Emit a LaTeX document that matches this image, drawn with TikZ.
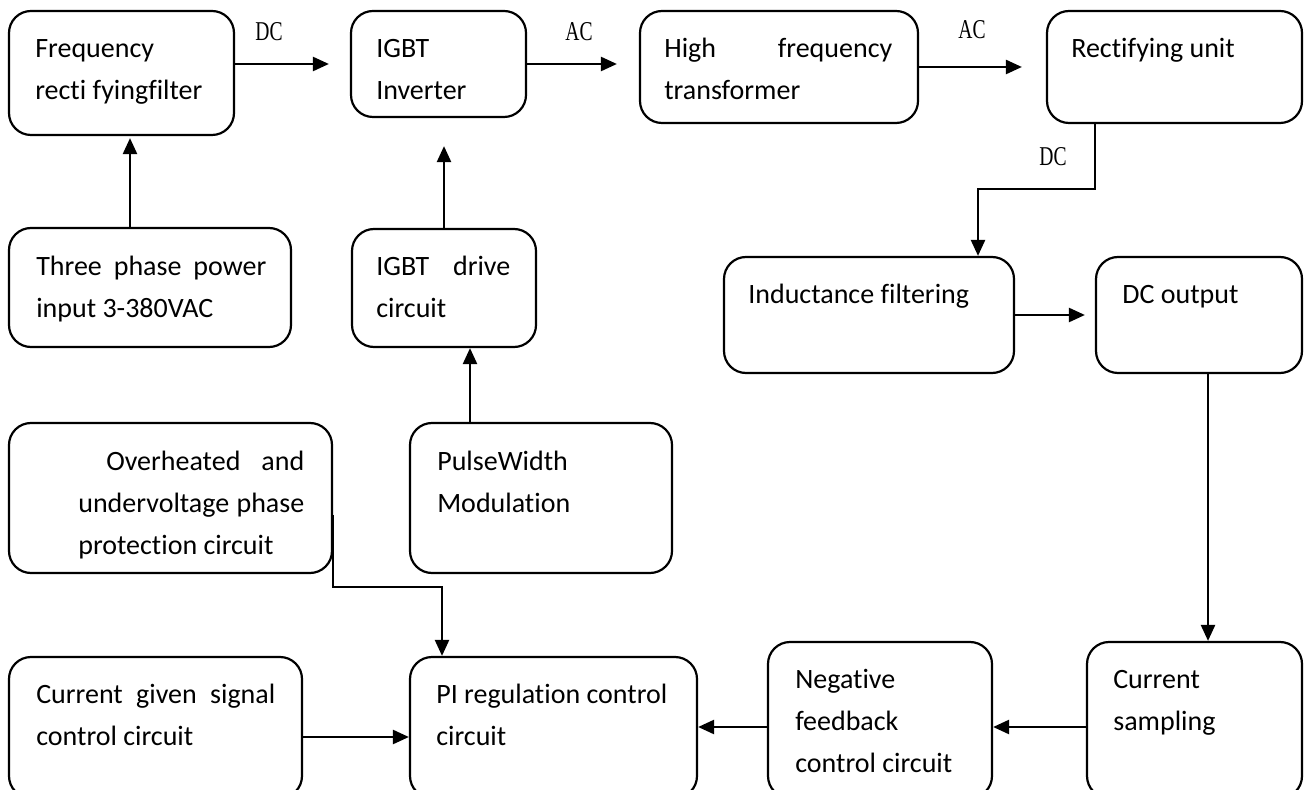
\documentclass[tikz,border=0pt]{standalone}
\usepackage{fontspec}
\setmainfont{Carlito}[Ligatures=NoCommon]
\newfontfamily\lblfont[FakeStretch=0.72]{Liberation Serif}
\usetikzlibrary{arrows.meta,fit,calc}

\tikzset{
  blk/.style={draw, line width=1.1pt, rounded corners=11pt, inner sep=0pt},
  txt/.style={anchor=north west, inner sep=0pt, align=left, text width=#1,
    font=\fontsize{14}{21}\selectfont,
    execute at begin node={\spaceskip=0pt\xspaceskip=0pt\strut}},
  lbl/.style={inner sep=0pt, font=\lblfont\fontsize{13.6}{16}\selectfont},
  arr/.style={line width=1.2pt, -{Triangle[length=8pt,width=7pt]}},
}

\begin{document}
\begin{tikzpicture}[x=0.5pt, y=-0.5pt]
\useasboundingbox (0,0) rectangle (1304,790);

\node[blk, fit={(9,11) (234,135)}] (freq) {};
\node[blk, fit={(351,11) (526,117)}] (inv) {};
\node[blk, fit={(640,11) (918,123)}] (hft) {};
\node[blk, fit={(1047,11) (1302,123)}] (rect) {};
\node[blk, fit={(9,228) (291,347)}] (three) {};
\node[blk, fit={(352,229) (536,347)}] (drv) {};
\node[blk, fit={(724,257) (1014,373)}] (ind) {};
\node[blk, fit={(1096,257) (1302,373)}] (dco) {};
\node[blk, fit={(9,423) (332,573)}] (ovh) {};
\node[blk, fit={(410,423) (672,573)}] (pwm) {};
\node[blk, fit={(9,657) (302,798)}] (cur) {};
\node[blk, fit={(410,657) (697,798)}] (pi) {};
\node[blk, fit={(768,642) (992,798)}] (neg) {};
\node[blk, fit={(1087,642) (1302,798)}] (smp) {};

\node[txt=90pt] (freqtxt) at ([shift={(27,17.6)}]freq.north west) {Frequency\\recti fyingfilter};
\node[txt=60pt] (invtxt) at ([shift={(26,17.6)}]inv.north west) {IGBT\\Inverter};
\node[txt=114pt] (hfttxt) at ([shift={(25,17.6)}]hft.north west) {High\hfill frequency\\transformer};
\node[txt=110pt] (recttxt) at ([shift={(25,17.6)}]rect.north west) {Rectifying unit};
\node[txt=115pt] (threetxt) at ([shift={(28,18.6)}]three.north west) {Three\hfill phase\hfill power\\input 3-380VAC};
\node[txt=67pt] (drvtxt) at ([shift={(25,17.6)}]drv.north west) {IGBT\hfill drive\\circuit};
\node[txt=120pt] (indtxt) at ([shift={(25,17.6)}]ind.north west) {Inductance filtering};
\node[txt=80pt] (dcotxt) at ([shift={(27,17.6)}]dco.north west) {DC output};
\node[txt=113pt] (ovhtxt) at ([shift={(70,18.6)}]ovh.north west) {\hspace*{14pt}Overheated\hfill and\\undervoltage\hfill phase\\protection circuit};
\node[txt=100pt] (pwmtxt) at ([shift={(28,18.6)}]pwm.north west) {PulseWidth\\Modulation};
\node[txt=119.5pt] (curtxt) at ([shift={(28,17.6)}]cur.north west) {Current\hfill given\hfill signal\\control circuit};
\node[txt=120pt] (pitxt) at ([shift={(27,17.6)}]pi.north west) {PI regulation control\\circuit};
\node[txt=90pt] (negtxt) at ([shift={(28,17.6)}]neg.north west) {Negative\\feedback\\control circuit};
\node[txt=90pt] (smptxt) at ([shift={(27,17.6)}]smp.north west) {Current\\sampling};

\node[lbl] (dc1) at (269,32) {DC};
\node[lbl] (ac1) at (579,32) {AC};
\node[lbl] (ac2) at (972,30) {AC};
\node[lbl] (dc2) at (1053,157) {DC};

\coordinate (bend1) at (978,189);
\coordinate (bend2) at (442,587);
\coordinate (dcodown) at ($(dco.south)+(9,0)$);
\coordinate (pwmup) at ([xshift=13pt]drv.south);
\coordinate (ovhout) at ([yshift=-8.5pt]ovh.east);
\coordinate (threeup) at ([xshift=-10pt]three.north);
\coordinate (fbrow) at (0,727);
\coordinate (inrow) at (0,737);

\draw[arr, shorten >=10.5pt] (freq.east |- inv.west) -- (inv.west);
\draw[arr, shorten >=11pt] (inv.east) -- (inv.east -| hft.west);
\draw[arr, shorten >=12pt] (hft.east) -- (hft.east -| rect.west);
\draw[arr] (rect.south -| dco.west) |- (bend1) -- (bend1 |- ind.north);
\draw[arr, shorten >=5pt] (ind.east) -- (dco.west);
\draw[arr] (dcodown) -- (dcodown |- smp.north);
\draw[arr] (smp.west |- fbrow) -- (neg.east |- fbrow);
\draw[arr] (neg.west |- fbrow) -- (pi.east |- fbrow);
\draw[arr] (cur.east |- inrow) -- (pi.west |- inrow);
\draw[arr, shorten >=1pt] (threeup) -- (threeup |- freq.south);
\draw[arr, shorten >=14pt] (drv.north) -- (drv.north |- inv.south);
\draw[arr] (pwmup |- pwm.north) -- (pwmup);
\draw[arr] (ovhout) |- (bend2) -- (bend2 |- pi.north);
\end{tikzpicture}
\end{document}
